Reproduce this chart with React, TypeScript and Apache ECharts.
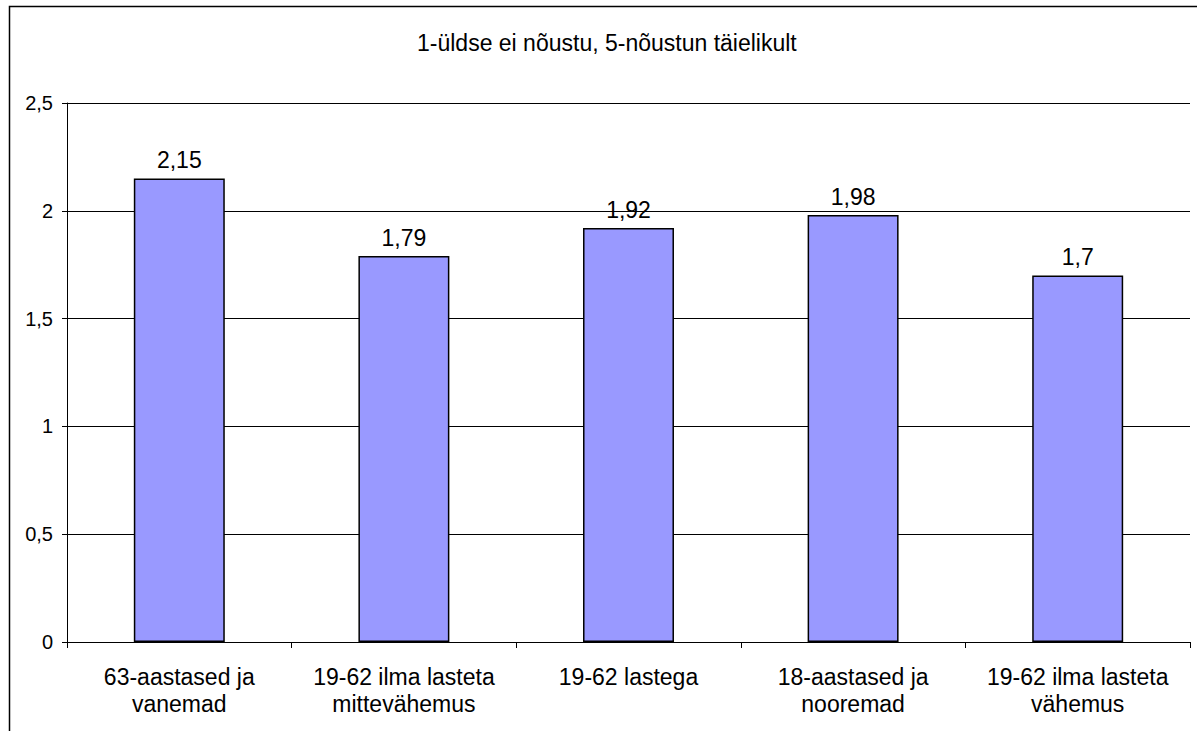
import React, { useEffect, useRef } from "react";
import * as echarts from "echarts";

const categories = [
  "63-aastased ja\nvanemad",
  "19-62 ilma lasteta\nmittevähemus",
  "19-62 lastega",
  "18-aastased ja\nnooremad",
  "19-62 ilma lasteta\nvähemus",
];
const values = [2.15, 1.79, 1.92, 1.98, 1.7];
const yTicks = [0, 0.5, 1, 1.5, 2, 2.5];
const titleText = "1-üldse ei nõustu, 5-nõustun täielikult";

const fmt = (v: number) => String(v).replace(".", ",");

const FONT = "Liberation Sans, Arial, sans-serif";

export default function App() {
  const ref = useRef<HTMLDivElement>(null);
  useEffect(() => {
    const chart = echarts.init(ref.current!, null, { renderer: "svg" });
    chart.setOption({
      animation: false,
      backgroundColor: "#ffffff",
      textStyle: { fontFamily: FONT },
      title: {
        text: titleText,
        left: 417,
        top: 31,
        padding: 0,
        textStyle: { fontSize: 23, fontWeight: "normal", color: "#000", fontFamily: FONT },
      },
      graphic: [
        {
          type: "rect",
          shape: { x: 9.5, y: 6.5, width: 1400, height: 900 },
          style: { fill: "none", stroke: "#000", lineWidth: 1.5 },
          silent: true,
        },
      ],
      grid: { left: 67, right: 7, top: 103, bottom: 89, containLabel: false },
      xAxis: {
        type: "category",
        data: categories,
        boundaryGap: true,
        axisLine: { lineStyle: { color: "#000", width: 1 } },
        axisTick: { show: true, length: 6, alignWithLabel: false, lineStyle: { color: "#000" } },
        axisLabel: {
          color: "#000",
          fontSize: 23,
          lineHeight: 27,
          margin: 21,
          interval: 0,
          fontFamily: FONT,
        },
      },
      yAxis: {
        type: "value",
        min: yTicks[0],
        max: yTicks[yTicks.length - 1],
        interval: yTicks[1] - yTicks[0],
        axisLine: { show: true, lineStyle: { color: "#000", width: 1 } },
        axisTick: { show: true, length: 5, lineStyle: { color: "#000" } },
        splitLine: { show: true, lineStyle: { color: "#000", width: 1 } },
        axisLabel: {
          color: "#000",
          fontSize: 20,
          margin: 14,
          formatter: (v: number) => fmt(v),
          fontFamily: FONT,
        },
      },
      series: [
        {
          type: "bar",
          data: values,
          barWidth: "40.5%",
          itemStyle: { color: "#9999FF", borderColor: "#000", borderWidth: 1.5 },
          label: {
            show: true,
            position: "top",
            distance: 7,
            color: "#000",
            fontSize: 23,
            formatter: (p: any) => fmt(p.value),
            fontFamily: FONT,
          },
        },
      ],
    });
    return () => chart.dispose();
  }, []);
  return (
    <div
      ref={ref}
      style={{ position: "fixed", left: 0, top: 0, width: 1197, height: 731, background: "#fff" }}
    />
  );
}
